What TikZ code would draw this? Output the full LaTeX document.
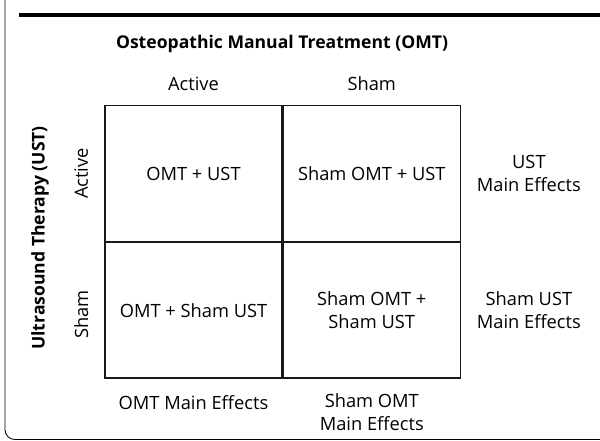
\documentclass[tikz,border=0pt]{standalone}
\usepackage{fontspec}
\setmainfont{Open Sans}
\usepackage{tikz}
\usetikzlibrary{positioning, calc}
\definecolor{gridInk}{rgb}{0.1, 0.1, 0.1}
\tikzset{
	cell/.style={draw=gridInk, line width=0.9pt, minimum width=177*0.025cm, minimum height=135.5*0.025cm, align=center, inner sep=0pt, font=\fontsize{13}{16.3}\selectfont},
	lbl/.style={align=center, inner sep=0pt, font=\fontsize{13}{16.3}\selectfont},
	head/.style={inner sep=0pt, font=\bfseries\fontsize{12.5}{15}\selectfont}
}

\begin{document}
\begin{tikzpicture}[x=0.025cm, y=-0.025cm, line cap=round]

	\useasboundingbox (0,0) rectangle (600,441);

	% frame and top rule
	\draw[line width=0.6pt, rounded corners=7pt] (5,-5) -- (5,439.5) -- (610,439.5);
	\draw[line width=2.6pt, line cap=butt] (19,15) -- (605,15);

	% the 2x2 grid
	\node[cell] (omtust) at (193.5,173.5) {OMT + UST};
	\node[cell, right=0pt of omtust] (shamust) {Sham OMT + UST};
	\node[cell, below=0pt of omtust] (omtsham) {OMT + Sham UST};
	\node[cell, below=0pt of shamust] (shamsham) {Sham OMT +\\Sham UST};

	% headings
	\node[head] (omt) at (282,44) {Osteopathic Manual Treatment (OMT)};
	\node[head, rotate=90] (ust) at (40,238) {Ultrasound Therapy (UST)};

	\node[lbl] (colA) at ($(omtust.north)+(0,-21)$) {Active};
	\node[lbl] (colS) at ($(shamust.north)+(0,-21)$) {Sham};
	\node[lbl, rotate=90] (rowA) at ($(omtust.west)+(-23,0)$) {Active};
	\node[lbl, rotate=90] (rowS) at ($(omtsham.west)+(-23,4)$) {Sham};

	% main effects
	\node[lbl] (ustme) at ($(shamust.east)+(68,0)$) {UST\\Main Effects};
	\node[lbl] (shamustme) at ($(shamsham.east)+(68,0)$) {Sham UST\\Main Effects};
	\node[lbl] (omtme) at ($(omtsham.south)+(0,24)$) {OMT Main Effects};
	\node[lbl, anchor=north] (shamomtme) at ($(shamsham.south)+(0,15)$) {Sham OMT\\Main Effects};

\end{tikzpicture}
\end{document}
